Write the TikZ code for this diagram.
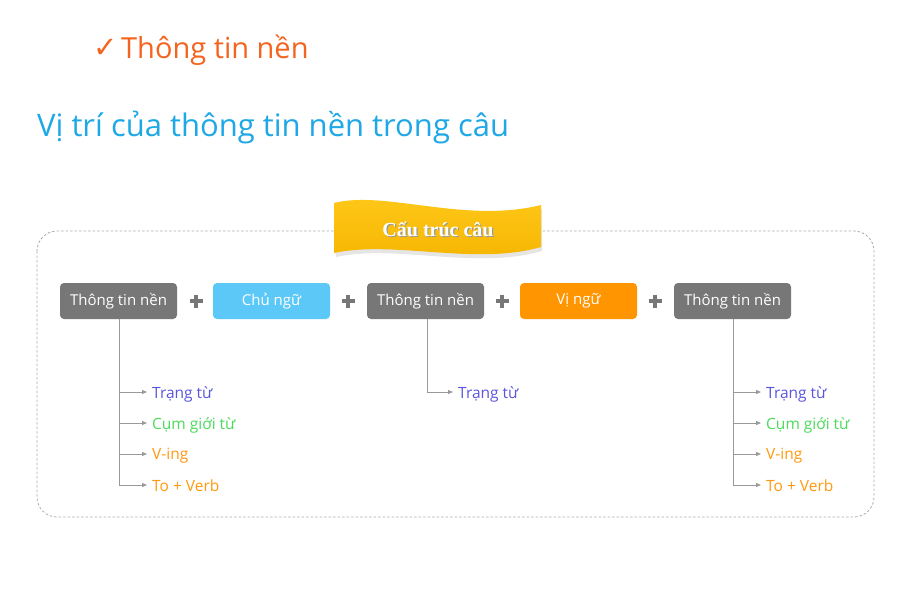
\documentclass[tikz,border=0pt]{standalone}
\usepackage{fontspec}
\setmainfont{Open Sans}
\newfontfamily\symfont{DejaVu Sans}
\newfontfamily\bannerfont{Liberation Serif}
\usetikzlibrary{arrows.meta,shadows}
\definecolor{titleorange}{HTML}{F5641E}
\definecolor{titleblue}{HTML}{1FA8E6}
\definecolor{boxgray}{HTML}{777777}
\definecolor{boxblue}{HTML}{5CC8F7}
\definecolor{boxorange}{HTML}{FF9500}
\definecolor{plusgray}{HTML}{777777}
\definecolor{linegray}{HTML}{999999}
\definecolor{txtblue}{HTML}{5A55DD}
\definecolor{txtgreen}{HTML}{4ADB5A}
\definecolor{txtorange}{HTML}{FF9A10}
\definecolor{bannerA}{HTML}{FFC91A}
\definecolor{bannerB}{HTML}{F5B400}
\tikzset{
  wbox/.style={rounded corners=4pt, minimum width=117pt, minimum height=36pt, inner sep=0pt, text=white, font=\fontsize{15}{15}\selectfont},
  graybox/.style={wbox, fill=boxgray},
  plussign/.style={line width=3.5pt, plusgray},
  branch/.style={linegray, line width=0.8pt},
  arr/.style={linegray, line width=0.8pt, -{Triangle[length=5pt,width=4pt]}},
  item/.style={anchor=west, inner sep=0pt, font=\fontsize{15.5}{15.5}\selectfont},
}
\begin{document}
\begin{tikzpicture}[x=1pt,y=-1pt]
\useasboundingbox[fill=white] (0,0) rectangle (903,592);
% headings
\node[anchor=base west, inner sep=0pt, text=titleorange, font=\symfont\fontsize{29}{29}\selectfont] (chk) at (93,57) {✓};
\node[anchor=base west, inner sep=0pt, text=titleorange, font=\fontsize{29}{29}\selectfont] (h1) at (121,58) {Thông tin nền};
\node[anchor=base west, inner sep=0pt, text=titleblue, font=\fontsize{31}{31}\selectfont] (h2) at (37,136) {Vị trí của thông tin nền trong câu};
% dashed frame
\draw[linegray!80, dashed, dash pattern=on 2.5pt off 2pt, line width=0.8pt, rounded corners=20pt] (37,231) rectangle (874,517);
% banner
\fill[black!10] (336,207) .. controls (387,194) and (467,228) .. (542,209) -- (542,251) .. controls (476,270) and (396,244) .. (336,257) -- cycle;
\shade[top color=bannerA, bottom color=bannerB] (334,203) .. controls (385,190) and (465,224) .. (541,205) -- (541,247) .. controls (475,266) and (395,240) .. (334,253) -- cycle;
\node[text=black!40, font=\bannerfont\bfseries\fontsize{20}{20}\selectfont] at (439.2,230.2) {Cấu trúc câu};
\node[text=white, font=\bannerfont\bfseries\fontsize{20}{20}\selectfont] (banner) at (438,229) {Cấu trúc câu};
% boxes
\node[graybox] (b1) at (118.5,301) {Thông tin nền};
\node[wbox, fill=boxblue] (b2) at (271.5,301) {Chủ ngữ};
\node[graybox] (b3) at (425.5,301) {Thông tin nền};
\node[wbox, fill=boxorange] (b4) at (578.5,301) {Vị ngữ};
\node[graybox] (b5) at (732.5,301) {Thông tin nền};
% plus signs
\foreach \px in {196,348,502,655}{
  \draw[plussign] (\px-6.5,301) -- (\px+6.5,301);
  \draw[plussign] (\px,294.5) -- (\px,307.5);
}
% left branch
\coordinate (l1) at (119,392); \coordinate (l2) at (119,423); \coordinate (l3) at (119,454); \coordinate (l4) at (119,485);
\draw[branch] (b1.south -| l1) -- (l4);
\node[item, text=txtblue] (t1) at (152,394) {Trạng từ};
\node[item, text=txtgreen] (t2) at (152,425) {Cụm giới từ};
\node[item, text=txtorange] (t3) at (152,456) {V-ing};
\node[item, text=txtorange] (t4) at (152,486) {To + Verb};
\draw[arr] (l1) -- ([xshift=-5pt]l1 -| t1.west);
\draw[arr] (l2) -- ([xshift=-5pt]l2 -| t2.west);
\draw[arr] (l3) -- ([xshift=-5pt]l3 -| t3.west);
\draw[arr] (l4) -- ([xshift=-5pt]l4 -| t4.west);
% middle branch
\coordinate (m1) at (427,392);
\draw[branch] (b3.south -| m1) -- (m1);
\node[item, text=txtblue] (u1) at (458,394) {Trạng từ};
\draw[arr] (m1) -- ([xshift=-5pt]m1 -| u1.west);
% right branch
\coordinate (r1) at (733,392); \coordinate (r2) at (733,423); \coordinate (r3) at (733,454); \coordinate (r4) at (733,485);
\draw[branch] (b5.south -| r1) -- (r4);
\node[item, text=txtblue] (v1) at (766,394) {Trạng từ};
\node[item, text=txtgreen] (v2) at (766,425) {Cụm giới từ};
\node[item, text=txtorange] (v3) at (766,456) {V-ing};
\node[item, text=txtorange] (v4) at (766,486) {To + Verb};
\draw[arr] (r1) -- ([xshift=-5pt]r1 -| v1.west);
\draw[arr] (r2) -- ([xshift=-5pt]r2 -| v2.west);
\draw[arr] (r3) -- ([xshift=-5pt]r3 -| v3.west);
\draw[arr] (r4) -- ([xshift=-5pt]r4 -| v4.west);
\end{tikzpicture}
\end{document}
